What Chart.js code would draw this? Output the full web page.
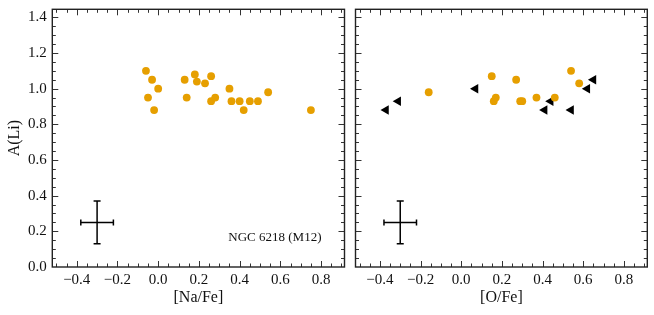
<!DOCTYPE html>
<html>
<head>
<meta charset="utf-8">
<script src="https://cdn.jsdelivr.net/npm/chart.js@4.4.1/dist/chart.umd.min.js"></script>
<style>
body{margin:0;background:#fff;}
#wrap{position:relative;width:654px;height:315px;}
#chartNa{position:absolute;left:0;top:0;}
#chartO{position:absolute;left:350px;top:0;}
</style>
</head>
<body>
<div id="wrap">
  <canvas id="chartNa" width="350" height="315"></canvas>
  <canvas id="chartO" width="304" height="315"></canvas>
</div>
<script>
// left panel: [Na/Fe] vs A(Li)
const naFe = [-0.06,-0.05,-0.03,0.00,-0.02,0.13,0.14,0.18,0.19,0.23,0.26,0.26,0.28,0.35,0.36,0.40,0.42,0.45,0.49,0.54,0.75];
const liNa = [1.10,0.95,1.05,1.00,0.88,1.05,0.95,1.08,1.04,1.03,1.07,0.93,0.95,1.00,0.93,0.93,0.88,0.93,0.93,0.98,0.88];

// right panel: [O/Fe] vs A(Li), measured
const oFe = [-0.16,0.15,0.16,0.17,0.27,0.29,0.30,0.37,0.46,0.54,0.58];
const liO = [0.98,1.07,0.93,0.95,1.05,0.93,0.93,0.95,0.95,1.10,1.03];

// right panel: upper limits in [O/Fe]
const oFeLim = [-0.37,-0.31,0.07,0.41,0.44,0.54,0.62,0.65];
const liOLim = [0.88,0.93,1.00,0.88,0.93,0.88,1.00,1.05];

// typical error bar
const errCenter = [-0.30,0.25];
const errSize = [0.08,0.12];

const xTicks = [-0.4,-0.2,0.0,0.2,0.4,0.6,0.8];
const yTicks = [0.0,0.2,0.4,0.6,0.8,1.0,1.2,1.4];

const X_MIN = -0.52, X_MAX = 0.915, Y_MIN = 0, Y_MAX = 1.445;
const ORANGE = "#E69F00";
const FONT = "'Liberation Serif', 'Times New Roman', serif";

function fmt(v){
    const s = Math.abs(v).toFixed(1);
    return v < -1e-9 ? "\u2212" + s : s;
}

// frame + inward ticks on all four sides
const framePlugin = {
    id:"frame",
    afterDatasetsDraw(chart){
        const ctx = chart.ctx;
        const a = chart.chartArea;
        const xs = chart.scales.x, ys = chart.scales.y;
        ctx.save();
        ctx.strokeStyle = "#333";
        ctx.lineWidth = 1;
        ctx.beginPath();
        for(let v = -0.5; v <= X_MAX + 1e-9; v += 0.05){
            const major = xTicks.some(t => Math.abs(t - v) < 1e-6);
            const len = major ? 6 : 3.5;
            const px = Math.round(xs.getPixelForValue(v)) + 0.5;
            ctx.moveTo(px, a.bottom); ctx.lineTo(px, a.bottom - len);
            ctx.moveTo(px, a.top); ctx.lineTo(px, a.top + len);
        }
        for(let v = 0.05; v <= Y_MAX + 1e-9; v += 0.05){
            const major = yTicks.some(t => Math.abs(t - v) < 1e-6);
            const len = major ? 6 : 3.5;
            const py = Math.round(ys.getPixelForValue(v)) + 0.5;
            ctx.moveTo(a.left, py); ctx.lineTo(a.left + len, py);
            ctx.moveTo(a.right, py); ctx.lineTo(a.right - len, py);
        }
        ctx.stroke();
        ctx.lineWidth = 1.4;
        ctx.strokeStyle = "#222";
        ctx.strokeRect(a.left, a.top, a.right - a.left, a.bottom - a.top);
        ctx.restore();
    }
};

const labelPlugin = {
    id:"clusterLabel",
    afterDraw(chart){
        const ctx = chart.ctx;
        const a = chart.chartArea;
        ctx.save();
        ctx.font = "13px " + FONT;
        ctx.fillStyle = "#111";
        ctx.textAlign = "right";
        ctx.textBaseline = "middle";
        ctx.fillText("NGC 6218 (M12)", a.right - 23, 238);
        ctx.restore();
    }
};

function errDatasets(){
    return [
        {
            data:[{x:errCenter[0]-errSize[0],y:errCenter[1]},{x:errCenter[0]+errSize[0],y:errCenter[1]}],
            showLine:true, borderColor:"#000", borderWidth:1.5,
            pointStyle:"line", rotation:90, pointRadius:3, pointBorderWidth:1.5, pointBorderColor:"#000"
        },
        {
            data:[{x:errCenter[0],y:errCenter[1]-errSize[1]},{x:errCenter[0],y:errCenter[1]+errSize[1]}],
            showLine:true, borderColor:"#000", borderWidth:1.5,
            pointStyle:"line", rotation:0, pointRadius:3.5, pointBorderWidth:1.5, pointBorderColor:"#000"
        }
    ];
}

function makeOptions(xTitle, showY){
    return {
        responsive:false,
        animation:false,
        layout:{padding:{left:0, right: showY ? 5 : 6.7, top:9.3, bottom:0}},
        plugins:{legend:{display:false}, tooltip:{enabled:false}},
        scales:{
            x:{
                type:"linear", min:X_MIN, max:X_MAX,
                afterBuildTicks:s => { s.ticks = xTicks.map(v => ({value:v})); },
                afterFit:s => { s.height = 48; s.paddingLeft = 0; s.paddingRight = 0; },
                grid:{display:false, drawTicks:false},
                border:{display:false},
                ticks:{color:"#111", font:{family:FONT, size:15}, padding:4, maxRotation:0, autoSkip:false, callback:fmt},
                title:{display:true, text:xTitle, color:"#111", font:{family:FONT, size:16}, padding:{top:0, bottom:8}}
            },
            y:{
                type:"linear", min:Y_MIN, max:Y_MAX,
                afterBuildTicks:s => { s.ticks = yTicks.map(v => ({value:v})); },
                afterFit:s => { s.width = showY ? 52.3 : 4.3; s.paddingTop = 0; s.paddingBottom = 0; },
                grid:{display:false, drawTicks:false},
                border:{display:false},
                ticks:{display:showY, color:"#111", font:{family:FONT, size:15}, padding:5.5, autoSkip:false, callback:fmt},
                title:{display:showY, text:"A(Li)", color:"#111", font:{family:FONT, size:16}, padding:{top:5, bottom:0}}
            }
        }
    };
}

new Chart(document.getElementById("chartNa"), {
    type:"scatter",
    data:{
        datasets:[
            {
                data:naFe.map((x,i) => ({x:x, y:liNa[i]})),
                backgroundColor:ORANGE, borderWidth:0, pointRadius:3.9
            },
            ...errDatasets()
        ]
    },
    options:makeOptions("[Na/Fe]", true),
    plugins:[framePlugin, labelPlugin]
});

new Chart(document.getElementById("chartO"), {
    type:"scatter",
    data:{
        datasets:[
            {
                data:oFe.map((x,i) => ({x:x, y:liO[i]})),
                backgroundColor:ORANGE, borderWidth:0, pointRadius:3.9
            },
            {
                data:oFeLim.map((x,i) => ({x:x, y:liOLim[i]})),
                backgroundColor:"#000", borderColor:"#000", borderWidth:0,
                pointStyle:"triangle", rotation:-90, pointRadius:5.5
            },
            ...errDatasets()
        ]
    },
    options:makeOptions("[O/Fe]", false),
    plugins:[framePlugin]
});
</script>
</body>
</html>
